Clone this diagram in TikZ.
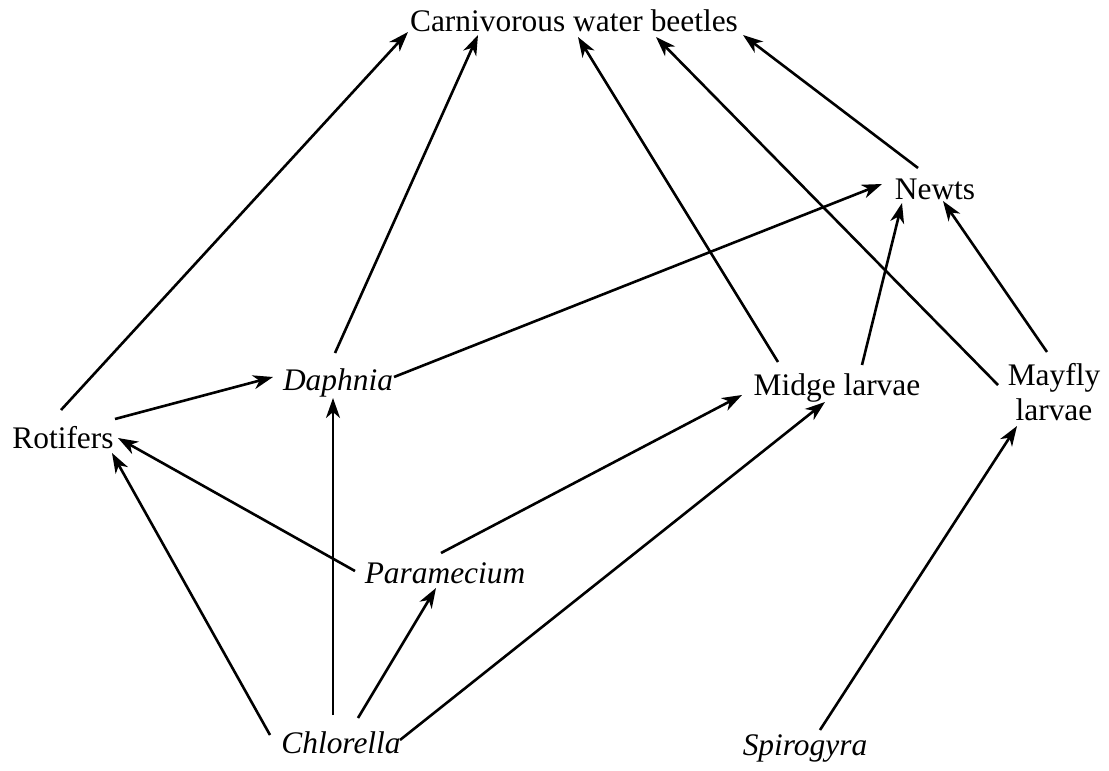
\documentclass[tikz,border=0pt]{standalone}
\usepackage{fontspec}
\setmainfont{Liberation Serif}
\usetikzlibrary{arrows.meta}
\tikzset{
  lab/.style={inner sep=0pt, font=\fontsize{15.7}{17.5}\selectfont},
  itlab/.style={lab, font=\fontsize{15.7}{17.5}\selectfont\itshape},
  arr/.style={line width=1.3pt, -{Stealth[length=10pt,width=7pt,inset=3pt]}}
}
\begin{document}
\begin{tikzpicture}[x=0.5pt,y=-0.5pt]
\useasboundingbox (0,0) rectangle (1109,771);
\node[lab, anchor=base] (cwb) at (574,32) {Carnivorous water beetles};
\node[lab, anchor=base] (newts) at (935,199) {Newts};
\node[itlab, anchor=base] (daph) at (338,390) {Daphnia};
\node[lab, anchor=base] (midge) at (837,395) {Midge larvae};
\node[lab, align=center] (mayfly) at (1054,392) {Mayfly\\larvae};
\node[lab, anchor=base] (rot) at (63,448) {Rotifers};
\node[itlab, anchor=base] (param) at (445,583) {Paramecium};
\node[itlab, anchor=base] (chlor) at (341,753) {Chlorella};
\node[itlab, anchor=base] (spiro) at (805,755) {Spirogyra};

\draw[arr] ([shift={(-2,-38)}]rot.base) -- ([shift={(-166,0)}]cwb.base);
\draw[arr] ([shift={(-3,-37)}]daph.base) -- ([shift={(-96,3)}]cwb.base);
\draw[arr] ([shift={(-59,-33)}]midge.base) -- ([shift={(4,5)}]cwb.base);
\draw[arr] ([shift={(-56,-7)}]mayfly.center) -- ([shift={(82,5)}]cwb.base);
\draw[arr] ([shift={(-17,-31)}]newts.base) -- ([shift={(169,3)}]cwb.base);
\draw[arr] ([shift={(56,-13)}]daph.base) -- ([shift={(-53,-15)}]newts.base);
\draw[arr] ([shift={(25,-30)}]midge.base) -- ([shift={(-33,4)}]newts.base);
\draw[arr] ([shift={(-7,-40)}]mayfly.center) -- ([shift={(8,2)}]newts.base);
\draw[arr] ([shift={(52,-29)}]rot.base) -- ([shift={(-65,-13)}]daph.base);
\draw[arr] ([shift={(-8,-38)}]chlor.base) -- ([shift={(-5,8)}]daph.base);
\draw[arr] ([shift={(-90,-12)}]param.base) -- ([shift={(55,-10)}]rot.base);
\draw[arr] ([shift={(-4,-30)}]param.base) -- ([shift={(-95,0)}]midge.base);
\draw[arr] ([shift={(-71,-18)}]chlor.base) -- ([shift={(49,5)}]rot.base);
\draw[arr] ([shift={(17,-35)}]chlor.base) -- ([shift={(-9,5)}]param.base);
\draw[arr] ([shift={(59,-13)}]chlor.base) -- ([shift={(-12,7)}]midge.base);
\draw[arr] ([shift={(15,-25)}]spiro.base) -- ([shift={(-37,34)}]mayfly.center);
\end{tikzpicture}
\end{document}
